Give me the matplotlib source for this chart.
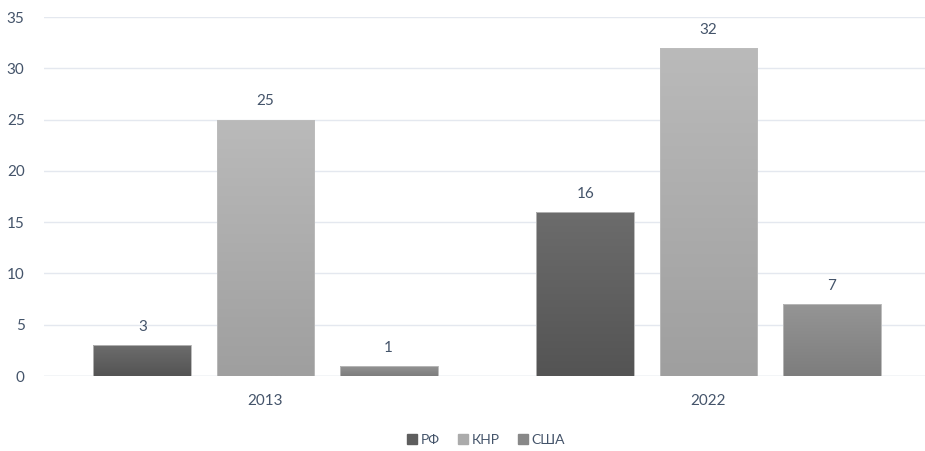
import matplotlib
matplotlib.use("Agg")
import matplotlib.pyplot as plt
import numpy as np
from matplotlib.colors import LinearSegmentedColormap
from matplotlib.patches import Rectangle
from matplotlib.lines import Line2D

years = ["2013", "2022"]
series_names = ["РФ", "КНР", "США"]
values = {
    "РФ": [3, 16],
    "КНР": [25, 32],
    "США": [1, 7],
}
top_colors = {"РФ": "#6c6c6c", "КНР": "#bababa", "США": "#959595"}
bottom_colors = {"РФ": "#545454", "КНР": "#9f9f9f", "США": "#7d7d7d"}
legend_colors = {"РФ": "#5e5e5e", "КНР": "#ababab", "США": "#888888"}

plt.rcParams['font.family'] = ['Lato', 'DejaVu Sans']
text_color = "#44546a"

W, H = 925, 451
fig = plt.figure(figsize=(W / 100, H / 100), dpi=100)
ax_left, ax_right = 44, 930
ax_top, ax_bottom = 17, 376
ax = fig.add_axes([ax_left / W, 1 - ax_bottom / H, (ax_right - ax_left) / W, (ax_bottom - ax_top) / H])

x = np.arange(len(years))
pitch = 0.278
width = 0.221
ymax = 35

for i, name in enumerate(series_names):
    offs = (i - 1) * pitch
    bars = ax.bar(x + offs, values[name], width, color=legend_colors[name],
                  edgecolor="#c8c8c8", linewidth=0.6, zorder=2)
    cmap = LinearSegmentedColormap.from_list(name, [bottom_colors[name], top_colors[name]])
    for b, v in zip(bars, values[name]):
        x0 = b.get_x()
        grad = np.linspace(0, 1, 100).reshape(-1, 1)
        im = ax.imshow(grad, cmap=cmap, origin="lower", aspect="auto",
                       extent=[x0, x0 + b.get_width(), 0, v], zorder=2.5)
        im.set_clip_path(b)
        ax.add_patch(Rectangle((x0, 0), b.get_width(), v, fill=False,
                               edgecolor="#bdbdbd", linewidth=0.6, zorder=3))
        ax.annotate(str(v), (b.get_x() + b.get_width() / 2, v), xytext=(0, 8),
                    textcoords="offset points", ha="center", va="bottom",
                    fontsize=11, color=text_color)

ax.set_xlim(-0.5, 1.5)
ax.set_ylim(0, ymax)
ax.set_yticks(np.arange(0, 36, 5))
ax.set_xticks(x)
ax.set_xticklabels(years)
ax.tick_params(axis="both", length=0, labelsize=11, labelcolor=text_color)
ax.tick_params(axis="x", pad=13)
ax.tick_params(axis="y", pad=14)
ax.grid(axis="y", color="#e4e8ef", linewidth=1, zorder=0)
ax.set_axisbelow(True)
for s in ax.spines.values():
    s.set_visible(False)
ax.axhline(0, color="#dfe3ea", linewidth=1, zorder=1)

handles = [Line2D([], [], marker="s", linestyle="none", markersize=7,
                  markerfacecolor=legend_colors[n], markeredgecolor=legend_colors[n]) for n in series_names]
fig.legend(handles, series_names, loc="center", bbox_to_anchor=(485 / W, 1 - 440 / H),
           ncol=3, frameon=False, fontsize=10, labelcolor=text_color,
           handletextpad=0.1, columnspacing=1.2, handlelength=1.0)

fig.savefig("out.png", dpi=100)
